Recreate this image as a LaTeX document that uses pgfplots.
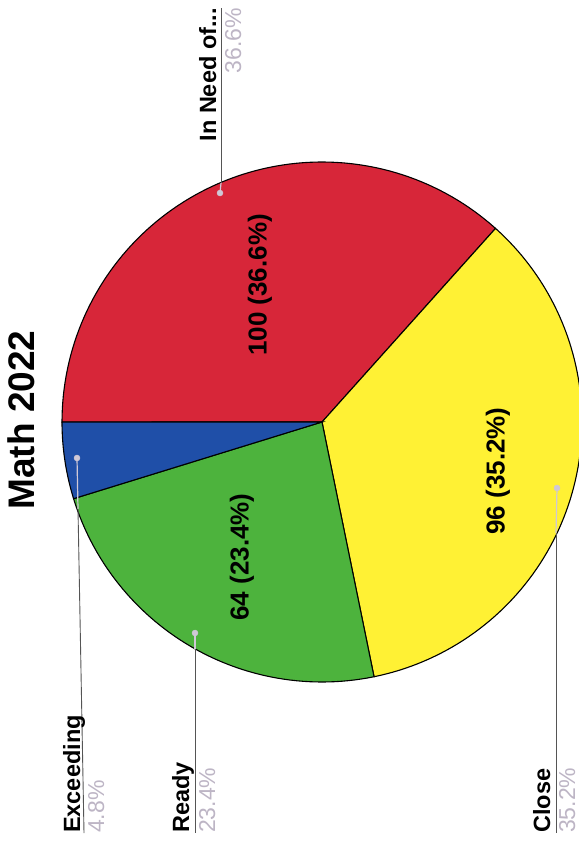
\documentclass[border=0pt]{standalone}
\usepackage{pgfplots}
\pgfplotsset{compat=1.18}
\usepackage{fontspec}
\setmainfont{Liberation Sans}
\definecolor{cRed}{HTML}{D72639}
\definecolor{cYel}{HTML}{FFF134}
\definecolor{cGrn}{HTML}{4DB33D}
\definecolor{cBlu}{HTML}{1F4FA8}
\definecolor{dotgray}{HTML}{CFC8D6}
\definecolor{pctgray}{HTML}{BDB5C5}
\definecolor{leader}{HTML}{555555}
% data: In Need of..., Close, Ready, Exceeding
\def\vRed{100}\def\vYel{96}\def\vGrn{64}\def\vBlu{13}
\pgfmathsetmacro{\tot}{\vRed+\vYel+\vGrn+\vBlu}
\pgfmathsetmacro{\aA}{180}
\pgfmathsetmacro{\aB}{\aA-\vRed/\tot*360}
\pgfmathsetmacro{\aC}{\aB-\vYel/\tot*360}
\pgfmathsetmacro{\aD}{\aC-\vGrn/\tot*360}
\pgfmathsetmacro{\aE}{\aD-\vBlu/\tot*360}
\def\cx{322}\def\cy{422}\def\rr{260}
\newcommand{\bigt}{\fontsize{37bp}{40bp}\selectfont\bfseries}
\newcommand{\labt}{\fontsize{23.5bp}{26bp}\selectfont\bfseries}
\newcommand{\pctt}{\fontsize{23bp}{26bp}\selectfont\color{pctgray}}
\newcommand{\inl}{\fontsize{26bp}{28bp}\selectfont\bfseries}
\begin{document}
\begin{tikzpicture}
\useasboundingbox (0,0) rectangle (579bp,846bp);
\begin{axis}[at={(0,0)}, anchor=south west, scale only axis, width=579bp, height=846bp,
  xmin=0, xmax=579, ymin=0, ymax=846, y dir=reverse,
  axis line style={draw=none}, xtick=\empty, ytick=\empty, clip=false]
% slices
\addplot[fill=cRed, draw=black, line width=1.1bp, domain=\aB:\aA, samples=90, variable=\t]
  ({\cx+\rr*cos(\t)}, {\cy-\rr*sin(\t)}) -- (axis cs:\cx,\cy) -- cycle;
\addplot[fill=cYel, draw=black, line width=1.1bp, domain=\aC:\aB, samples=90, variable=\t]
  ({\cx+\rr*cos(\t)}, {\cy-\rr*sin(\t)}) -- (axis cs:\cx,\cy) -- cycle;
\addplot[fill=cGrn, draw=black, line width=1.1bp, domain=\aD:\aC, samples=60, variable=\t]
  ({\cx+\rr*cos(\t)}, {\cy-\rr*sin(\t)}) -- (axis cs:\cx,\cy) -- cycle;
\addplot[fill=cBlu, draw=black, line width=1.1bp, domain=\aE:\aD, samples=20, variable=\t]
  ({\cx+\rr*cos(\t)}, {\cy-\rr*sin(\t)}) -- (axis cs:\cx,\cy) -- cycle;
% leader lines inside slices
\addplot[dotgray, line width=1.2bp] coordinates {(220,193) (221,183)};
\addplot[dotgray, line width=1.2bp] coordinates {(557,488) (556,533)};
\addplot[dotgray, line width=1.2bp] coordinates {(195,633) (195,649)};
\addplot[dotgray, line width=1.2bp] coordinates {(77,458) (78,509)};
% leader lines outside
\addplot[leader, line width=0.9bp] coordinates {(221,183) (221,8)};
\addplot[leader, line width=0.9bp] coordinates {(556,533) (556,833)};
\addplot[leader, line width=0.9bp] coordinates {(195,649) (195,833)};
\addplot[leader, line width=0.9bp] coordinates {(78,509) (84,833)};
\addplot[only marks, mark=*, mark size=3bp, color=dotgray] coordinates {(220,193) (557,488) (195,633) (77,458)};
% title
\node[rotate=90, anchor=base] at (axis cs:34,420) {\bigt Math 2022};
% inside labels
\node[rotate=90] at (axis cs:260,285) {\inl 100 (36.6\%)};
\node[rotate=90] at (axis cs:498,471) {\inl 96 (35.2\%)};
\node[rotate=90] at (axis cs:242,557) {\inl 64 (23.4\%)};
% outside labels
\node[rotate=90, anchor=base east, inner sep=0pt] at (axis cs:216,8) {\labt In Need of...};
\node[rotate=90, anchor=base east, inner sep=0pt] at (axis cs:241,8) {\pctt 36.6\%};
\node[rotate=90, anchor=base west, inner sep=0pt] at (axis cs:80,833) {\labt Exceeding};
\node[rotate=90, anchor=base west, inner sep=0pt] at (axis cs:104,833) {\pctt 4.8\%};
\node[rotate=90, anchor=base west, inner sep=0pt] at (axis cs:189,833) {\labt Ready};
\node[rotate=90, anchor=base west, inner sep=0pt] at (axis cs:215,833) {\pctt 23.4\%};
\node[rotate=90, anchor=base west, inner sep=0pt] at (axis cs:550,833) {\labt Close};
\node[rotate=90, anchor=base west, inner sep=0pt] at (axis cs:575,833) {\pctt 35.2\%};
\end{axis}
\end{tikzpicture}
\end{document}
